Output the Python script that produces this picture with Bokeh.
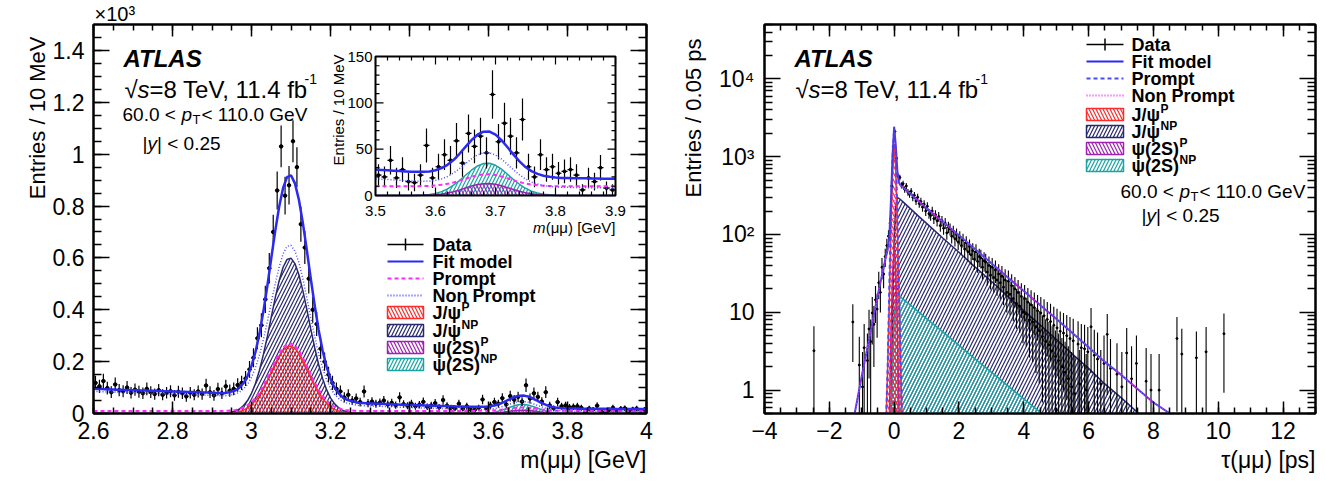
import numpy as np
from bokeh.plotting import figure
from bokeh.layouts import row
from bokeh.models import (LinearAxis, LogAxis, Range1d, Title,
                          CustomJSTickFormatter, SingleIntervalTicker, FixedTicker)
from bokeh.core.properties import value
from bokeh.embed import file_html
from bokeh.resources import INLINE

FONT = "Liberation Sans"
RED = "#ff2a2a"
NAVY = "#28286e"
PURPLE = "#a020b4"
TEAL = "#1aa3a3"
FIT_BLUE = "#2a2af2"
MAGENTA = "#ff2aff"
NP_BLUE = "#4a4aff"
FIT_VIOLET = "#4d3be0"

# ===================== LEFT PANEL : m(mumu) =====================
# data, entries per 10 MeV in units of 10^3, bins 2.60 ... 4.00
mass_data = [
    0.118, 0.105, 0.125, 0.098, 0.082, 0.112, 0.090, 0.086, 0.100, 0.080,
    0.092, 0.084, 0.078, 0.095, 0.082, 0.075, 0.090, 0.072, 0.080, 0.086,
    0.070, 0.084, 0.078, 0.066, 0.080, 0.072, 0.085, 0.075, 0.108, 0.082,
    0.070, 0.094, 0.078, 0.105, 0.088, 0.095, 0.110, 0.118, 0.135, 0.170,
    0.215, 0.290, 0.340, 0.440, 0.560, 0.700, 0.860, 1.030, 0.840, 0.880,
    1.050, 0.950, 0.730, 0.640, 0.520, 0.400, 0.345, 0.250, 0.200, 0.150,
    0.118, 0.095, 0.085, 0.062, 0.072, 0.050, 0.058, 0.044, 0.085, 0.040,
    0.046, 0.038, 0.042, 0.050, 0.035, 0.041, 0.032, 0.062, 0.036, 0.030,
    0.038, 0.028, 0.034, 0.045, 0.026, 0.031, 0.040, 0.024, 0.052, 0.030,
    0.022, 0.020, 0.038, 0.019, 0.028, 0.015, 0.014, 0.022, 0.054, 0.019,
    0.031, 0.044, 0.038, 0.059, 0.035, 0.067, 0.053, 0.064, 0.046, 0.109,
    0.058, 0.078, 0.064, 0.046, 0.082, 0.031, 0.020, 0.044, 0.028, 0.031,
    0.024, 0.026, 0.028, 0.022, 0.006, 0.019, 0.015, 0.030, 0.008, 0.006,
    0.014, 0.022, 0.012, 0.018, 0.020, 0.010, 0.016, 0.019, 0.012, 0.015,
]
mass_bin = 0.01
mass_centers = np.round(2.605 + mass_bin * np.arange(len(mass_data)), 3)
mass_err = 2.5 * np.sqrt(np.array(mass_data) * 1000.0) / 1000.0

# fit components on a 10 MeV grid 2.60 ... 4.00 (units of 10^3)
mass_grid = np.round(2.60 + 0.01 * np.arange(141), 2)
bkg_np_mass = [
    0.0850, 0.0845, 0.0840, 0.0835, 0.0830, 0.0825, 0.0820, 0.0815, 0.0810, 0.0805,
    0.0800, 0.0795, 0.0790, 0.0785, 0.0780, 0.0775, 0.0770, 0.0765, 0.0760, 0.0755,
    0.0750, 0.0745, 0.0740, 0.0735, 0.0730, 0.0725, 0.0720, 0.0715, 0.0710, 0.0705,
    0.0700, 0.0693, 0.0686, 0.0679, 0.0672, 0.0665, 0.0655, 0.0645, 0.0635, 0.0625,
    0.0615, 0.0603, 0.0591, 0.0579, 0.0567, 0.0555, 0.0543, 0.0531, 0.0519, 0.0507,
    0.0495, 0.0483, 0.0471, 0.0459, 0.0447, 0.0435, 0.0423, 0.0411, 0.0399, 0.0387,
    0.0375, 0.0366, 0.0357, 0.0348, 0.0339, 0.0330, 0.0322, 0.0314, 0.0306, 0.0298,
    0.0290, 0.0284, 0.0278, 0.0272, 0.0266, 0.0260, 0.0254, 0.0248, 0.0242, 0.0236,
    0.0230, 0.0225, 0.0220, 0.0215, 0.0210, 0.0205, 0.0200, 0.0195, 0.0190, 0.0185,
    0.0180, 0.0176, 0.0172, 0.0168, 0.0164, 0.0160, 0.0156, 0.0152, 0.0148, 0.0144,
    0.0140, 0.0137, 0.0134, 0.0131, 0.0128, 0.0125, 0.0122, 0.0119, 0.0116, 0.0113,
    0.0110, 0.0108, 0.0106, 0.0104, 0.0102, 0.0100, 0.0098, 0.0096, 0.0094, 0.0092,
    0.0090, 0.0089, 0.0088, 0.0087, 0.0086, 0.0085, 0.0084, 0.0083, 0.0082, 0.0081,
    0.0080, 0.0079, 0.0078, 0.0077, 0.0076, 0.0075, 0.0074, 0.0073, 0.0072, 0.0071, 0.0070,
]
bkg_p_level = 0.010
jpsi_start = 2.94
jpsi_p_peak = [0.001, 0.002, 0.004, 0.008, 0.013, 0.022, 0.034, 0.050, 0.072, 0.098,
               0.128, 0.161, 0.193, 0.222, 0.244, 0.257, 0.260, 0.251, 0.232, 0.205,
               0.174, 0.141, 0.110, 0.082, 0.058, 0.040, 0.026, 0.016, 0.010, 0.006,
               0.003, 0.002, 0.001]
jpsi_np_peak = [0.003, 0.006, 0.010, 0.018, 0.031, 0.050, 0.078, 0.116, 0.166, 0.227,
                0.296, 0.372, 0.446, 0.512, 0.564, 0.594, 0.599, 0.578, 0.535, 0.474,
                0.402, 0.326, 0.254, 0.189, 0.135, 0.092, 0.060, 0.038, 0.023, 0.013,
                0.007, 0.004, 0.002]
psi2s_start = 3.57
psi2s_p_peak = [0.0001, 0.0002, 0.0004, 0.0009, 0.0016, 0.0026, 0.0041, 0.0060, 0.0081, 0.0102,
                0.0118, 0.0128, 0.0129, 0.0121, 0.0105, 0.0085, 0.0064, 0.0045, 0.0029, 0.0018,
                0.0010, 0.0005, 0.0003, 0.0001]
psi2s_np_peak = [0.0003, 0.0006, 0.0012, 0.0023, 0.0042, 0.0071, 0.0111, 0.0162, 0.0218, 0.0273,
                 0.0319, 0.0345, 0.0348, 0.0326, 0.0284, 0.0229, 0.0173, 0.0121, 0.0078, 0.0047,
                 0.0027, 0.0014, 0.0007, 0.0003]


def on_grid(start, vals):
    arr = np.zeros(len(mass_grid))
    i0 = int(round((start - mass_grid[0]) / 0.01))
    arr[i0:i0 + len(vals)] = vals
    return arr


jpsi_p_m = on_grid(jpsi_start, jpsi_p_peak)
jpsi_np_m = on_grid(jpsi_start, jpsi_np_peak)
psi_p_m = on_grid(psi2s_start, psi2s_p_peak)
psi_np_m = on_grid(psi2s_start, psi2s_np_peak)
prompt_m = bkg_p_level + jpsi_p_m + psi_p_m
nonprompt_m = np.array(bkg_np_mass) + jpsi_np_m + psi_np_m
fit_m = prompt_m + nonprompt_m

# ===================== RIGHT PANEL : tau(mumu) =====================
tau_data = [
    0, 0, 2.1, 0, 1.1, 3.5, 0, 2.4, 6.1, 4.2,
    9.8, 7.0, 14.5, 11, 24, 18, 38, 31, 52, 72,
    95, 140, 420, 1350, 2100, 950, 560, 540, 430, 450,
    380, 420, 350, 330, 360, 300, 318, 270, 300, 250,
    265, 225, 245, 200, 230, 185, 175, 200, 160, 180,
    150, 170, 130, 150, 120, 140, 105, 125, 118, 95,
    110, 88, 100, 80, 92, 72, 85, 65, 78, 60,
    70, 55, 62, 48, 60, 45, 52, 50, 38, 46,
    44, 33, 40, 30, 38, 28, 35, 26, 31, 24,
    29, 21, 26, 18, 25, 17, 22, 15, 20, 13,
    18, 12, 16, 10, 15, 9.5, 13.5, 8, 12.5, 7.5,
    11.5, 6.5, 10.5, 5.8, 9.8, 4.9, 9.0, 4.2, 8.1, 3.8,
    7.6, 3.2, 6.8, 2.7, 6.3, 2.4, 5.7, 2.0, 5.4, 1.7,
    5.0, 1.4, 4.6, 1.1, 4.3, 0.9, 0, 3.9, 1.2, 3.5,
    0, 3.4, 1.0, 3.1, 0, 6.5, 0, 2.8, 0, 2.5,
    0, 1.2, 0, 2.2, 0, 5.2, 0, 1.9, 0, 0,
    0, 1.6, 0, 0, 1.1, 0, 0, 3.0, 0, 0,
    1.4, 0, 0, 2.2, 0, 0, 0, 0, 0, 1.3,
    0, 0, 1.0, 0,
]
tau_bin = 0.05
tau_centers = np.round(-1.175 + tau_bin * np.arange(len(tau_data)), 3)
tau_extra_centers = [-2.475, -1.275, 8.175, 8.725, 8.875, 9.325, 9.625, 10.175]
tau_extra_data = [3.2, 7.5, 1.0, 4.6, 2.9, 2.6, 3.1, 5.3]

tau_grid = [-1.3, -1.25, -1.0, -0.75, -0.5, -0.3, -0.25, -0.2, -0.15, -0.1, -0.05, 0.0,
            0.05, 0.1, 0.15, 0.2, 0.25, 0.3, 0.5, 0.75, 1.0, 1.5, 2.0, 2.5, 3.0, 3.5,
            4.0, 4.5, 5.0, 5.5, 6.0, 6.5, 7.0, 7.5, 8.0, 8.5, 9.0]
E = 0.001  # below the visible range of the log axis
prompt_bkg_t = [E] * 8 + [5, 60, 300, 700, 300, 60, 5, 0.4] + [E] * 21
jpsi_p_t = [E] * 6 + [0.4, 2, 15, 120, 600, 1450, 700, 130, 15, 2, 0.4] + [E] * 20
psi_p_t = [E] * 8 + [0.4, 5, 30, 70, 35, 6, 0.5] + [E] * 22
jpsi_np_t = [E] * 9 + [0.4, 8, 90, 240, 300, 290, 280, 268, 257, 215, 172, 139, 90, 59, 38, 25,
                       16, 10.5, 6.9, 4.5, 2.9, 1.9, 1.2, 0.8, 0.52, 0.34, 0.22, 0.14]
psi_np_t = [E] * 9 + [0.3, 2, 8, 14, 17, 16.3, 15.7, 15.0, 14.4, 12.4, 10.1, 8.3, 5.6, 3.76, 2.5,
                      1.7, 1.14, 0.77, 0.52, 0.35, 0.23, 0.16, 0.1, 0.07, 0.05, 0.03, 0.02, 0.015]
np_bkg_t = [0.3, 0.42, 1.5, 5, 17, 42, 52, 62, 70, 80, 90, 110, 130, 140, 135, 130, 125, 122,
            105, 88, 72, 50, 35, 24, 16, 11, 7.5, 5, 3.4, 2.3, 1.5, 1.0, 0.7, 0.47, 0.32,
            0.26, 0.15]
prompt_t = np.array(prompt_bkg_t) + np.array(jpsi_p_t) + np.array(psi_p_t)
nonprompt_t = np.array(np_bkg_t) + np.array(jpsi_np_t) + np.array(psi_np_t)
fit_t = prompt_t + nonprompt_t

# ===================== layout constants =====================
X1 = (2.6, 4.0); Y1 = (0.0, 1.5)
X2 = (-4.0, 13.0); Y2 = (0.5, 5.0e4)
FW1, FW2, FH = 553, 551, 389


def fx1(px): return X1[0] + px * (X1[1] - X1[0]) / FW1
def fy1(py): return Y1[0] + py * (Y1[1] - Y1[0]) / FH
def fx2(px): return X2[0] + px * (X2[1] - X2[0]) / FW2
def fy2(py): return 10 ** (np.log10(Y2[0]) + py * (np.log10(Y2[1]) - np.log10(Y2[0])) / FH)


def add_text(p, x, y, text, size, style="normal", align="left", baseline="alphabetic",
             angle=0.0, color="black"):
    p.text(x=[x], y=[y], text=[text], text_font=value(FONT),
           text_font_size=value(f"{size}px"), text_font_style=value(style),
           text_align=value(align), text_baseline=value(baseline), angle=angle,
           text_color=color)


blank_fmt = CustomJSTickFormatter(code="return '';")


def style_axis(ax, major_len, minor_len, labels=True, standoff=8):
    ax.axis_line_width = 2
    ax.axis_line_color = "black"
    ax.major_tick_in = major_len
    ax.major_tick_out = 0
    ax.minor_tick_in = minor_len
    ax.minor_tick_out = 0
    ax.major_tick_line_width = 1.5
    ax.minor_tick_line_width = 1.5
    ax.major_label_text_font = FONT
    ax.major_label_text_color = "black"
    if labels:
        ax.major_label_text_font_size = "23px"
        ax.major_label_standoff = standoff
    else:
        ax.formatter = blank_fmt
        ax.major_label_text_font_size = "0px"
        ax.major_label_standoff = 0


def base_fig(fw, xr, yr, left, right, ytype="linear"):
    p = figure(frame_width=fw, frame_height=FH, x_range=Range1d(*xr), y_range=Range1d(*yr),
               y_axis_type=ytype, output_backend="svg", toolbar_location=None, title=None,
               min_border_left=left, min_border_right=right, min_border_top=23,
               min_border_bottom=71, background_fill_color="white",
               border_fill_color="white")
    p.xgrid.visible = False
    p.ygrid.visible = False
    p.outline_line_color = "black"
    p.outline_line_width = 2
    return p


def side_title(p, text, place, align, size, standoff, offset=0):
    p.add_layout(Title(text=text, align=align, text_font=FONT, text_font_size=f"{size}px",
                       text_font_style="normal", text_color="black", standoff=standoff,
                       offset=offset), place)


def header(p, fx, fy, pt_px, pt_py, y_px, y_py):
    add_text(p, fx(30), fy(355), "ATLAS", 24, "bold italic")
    add_text(p, fx(31), fy(324), "\u221a", 24)
    add_text(p, fx(44), fy(324), "s", 24, "italic")
    add_text(p, fx(56), fy(324), "=8 TeV, 11.4 fb", 24)
    add_text(p, fx(211), fy(335), "-1", 14)
    add_text(p, fx(pt_px), fy(pt_py), "60.0 < ", 19)
    add_text(p, fx(pt_px + 59), fy(pt_py), "p", 19, "italic")
    add_text(p, fx(pt_px + 70), fy(pt_py - 5), "T", 13)
    add_text(p, fx(pt_px + 79), fy(pt_py), " < 110.0 GeV", 19)
    add_text(p, fx(y_px), fy(y_py), "|", 19)
    add_text(p, fx(y_px + 5), fy(y_py), "y", 19, "italic")
    add_text(p, fx(y_px + 14.5), fy(y_py), "| < 0.25", 19)


def legend(p, fx, fy, gx0, gx1, tx, rows, entries):
    gc = 0.5 * (gx0 + gx1)
    for r, (kind, color, style, main, sup, sdx) in zip(rows, entries):
        if kind == "data":
            p.line([fx(gx0), fx(gx1)], [fy(r), fy(r)], line_color="black", line_width=1.5)
            p.segment([fx(gc)], [fy(r - 6)], [fx(gc)], [fy(r + 6)], line_color="black",
                      line_width=1.5)
        elif kind == "line":
            p.line([fx(gx0), fx(gx1)], [fy(r), fy(r)], line_color=color, line_width=2,
                   line_dash=style)
        else:
            p.rect(x=[fx(gc)], y=[fy(r)], width=gx1 - gx0, height=12, width_units="screen",
                   height_units="screen", fill_color=None, line_color=color, line_width=1.5,
                   hatch_pattern=value(style), hatch_color=color, hatch_scale=7,
                   hatch_weight=1.2)
        add_text(p, fx(tx), fy(r), main, 18, "bold", baseline="middle")
        if sup:
            add_text(p, fx(tx + sdx), fy(r + 6), sup, 12, "bold", baseline="middle")


def hatched(p, x, y1, y2, color, pattern):
    p.varea(x=x, y1=y1, y2=y2, fill_color=None, hatch_pattern=value(pattern),
            hatch_color=color, hatch_scale=7, hatch_weight=1.2)
    p.line(x, y2, line_color=color, line_width=1.5)


num_fmt = CustomJSTickFormatter(code="""
var s = tick.toFixed(1); if (s.endsWith('.0')) { s = s.slice(0, -2); } return s;""")

# ===================== figure 1 =====================
p1 = base_fig(FW1, X1, Y1, 93, 22)
tx1 = SingleIntervalTicker(interval=0.2, num_minor_ticks=4)
ty1 = SingleIntervalTicker(interval=0.2, num_minor_ticks=4)
p1.xaxis[0].ticker = tx1
p1.yaxis[0].ticker = ty1
p1.xaxis[0].formatter = num_fmt
p1.yaxis[0].formatter = num_fmt
style_axis(p1.xaxis[0], 12, 6, True, 8)
style_axis(p1.yaxis[0], 16, 8, True, 9)
top1 = LinearAxis(ticker=tx1)
style_axis(top1, 12, 6, False)
p1.add_layout(top1, "above")
right1 = LinearAxis(ticker=ty1)
style_axis(right1, 16, 8, False)
p1.add_layout(right1, "right")
side_title(p1, "\u00d710\u00b3", "above", "left", 20, 0, 1)
side_title(p1, "Entries / 10 MeV", "left", "right", 22, 0, 12)
side_title(p1, "m(\u03bc\u03bc) [GeV]", "below", "right", 23, 7)

hatched(p1, mass_grid, 0, jpsi_np_m, NAVY, "/")
hatched(p1, mass_grid, 0, jpsi_p_m, RED, "\\")
hatched(p1, mass_grid, 0, psi_np_m, TEAL, "/")
hatched(p1, mass_grid, 0, psi_p_m, PURPLE, "\\")

p1.segment(mass_centers, np.array(mass_data) - mass_err, mass_centers,
           np.array(mass_data) + mass_err, line_color="black", line_width=1.2)
p1.segment(mass_centers - mass_bin / 2, mass_data, mass_centers + mass_bin / 2, mass_data,
           line_color="black", line_width=1.2)
p1.scatter(mass_centers, mass_data, size=3.5, color="black")

p1.line(mass_grid, prompt_m, line_color=MAGENTA, line_width=2, line_dash="4 3")
p1.line(mass_grid, nonprompt_m, line_color=NP_BLUE, line_width=1.5, line_dash="1 2")
p1.line(mass_grid, fit_m, line_color=FIT_BLUE, line_width=2.5)

# ---- inset ----
INSET = (282, 522, 218, 357)  # frame px: left, right, bottom, top
IX = (3.5, 3.9); IY = (0.0, 150.0)
sub = p1.subplot(x_source=Range1d(*IX), y_source=Range1d(*IY),
                 x_target=Range1d(fx1(INSET[0]), fx1(INSET[1])),
                 y_target=Range1d(fy1(INSET[2]), fy1(INSET[3])))
sub.quad(left=[IX[0]], right=[IX[1]], bottom=[IY[0]], top=[IY[1]], fill_color="white",
         line_color=None)
sel = (mass_grid >= IX[0] - 1e-9) & (mass_grid <= IX[1] + 1e-9)
gi = mass_grid[sel]
sub.varea(x=gi, y1=0, y2=psi_np_m[sel] * 1000, fill_color=None, hatch_pattern=value("/"),
          hatch_color=TEAL, hatch_scale=7, hatch_weight=1.2)
sub.line(gi, psi_np_m[sel] * 1000, line_color=TEAL, line_width=1.5)
sub.varea(x=gi, y1=0, y2=psi_p_m[sel] * 1000, fill_color=None, hatch_pattern=value("\\"),
          hatch_color=PURPLE, hatch_scale=7, hatch_weight=1.2)
sub.line(gi, psi_p_m[sel] * 1000, line_color=PURPLE, line_width=1.5)
dsel = (mass_centers > IX[0]) & (mass_centers < IX[1])
dc = mass_centers[dsel]
dv = np.array(mass_data)[dsel] * 1000
de = mass_err[dsel] * 1000
sub.segment(dc, dv - de, dc, dv + de, line_color="black", line_width=1.2)
sub.segment(dc - mass_bin / 2, dv, dc + mass_bin / 2, dv, line_color="black", line_width=1.2)
sub.scatter(dc, dv, size=3, color="black")
sub.line(gi, prompt_m[sel] * 1000, line_color=MAGENTA, line_width=2, line_dash="4 3")
sub.line(gi, nonprompt_m[sel] * 1000, line_color=NP_BLUE, line_width=1.5, line_dash="1 2")
sub.line(gi, fit_m[sel] * 1000, line_color=FIT_BLUE, line_width=2.5)

inset_xticks = [3.5, 3.6, 3.7, 3.8, 3.9]
inset_xminor = [round(3.5 + 0.02 * i, 2) for i in range(21) if i % 5]
inset_yticks = [0, 50, 100, 150]
inset_yminor = [10 * i for i in range(16) if i % 5]
dxpx = (IX[1] - IX[0]) / (INSET[1] - INSET[0])
dypx = (IY[1] - IY[0]) / (INSET[3] - INSET[2])
for ticks, L in ((inset_xticks, 8), (inset_xminor, 4)):
    t = np.array(ticks, dtype=float)
    sub.segment(t, IY[0], t, IY[0] + L * dypx, line_color="black", line_width=1.2)
    sub.segment(t, IY[1], t, IY[1] - L * dypx, line_color="black", line_width=1.2)
for ticks, L in ((inset_yticks, 8), (inset_yminor, 4)):
    t = np.array(ticks, dtype=float)
    sub.segment(IX[0], t, IX[0] + L * dxpx, t, line_color="black", line_width=1.2)
    sub.segment(IX[1], t, IX[1] - L * dxpx, t, line_color="black", line_width=1.2)
sub.quad(left=[IX[0]], right=[IX[1]], bottom=[IY[0]], top=[IY[1]], fill_color=None,
         line_color="black", line_width=2)
for t in inset_xticks:
    add_text(p1, fx1(INSET[0] + (t - IX[0]) / dxpx), fy1(INSET[2] - 15), f"{t:.1f}", 15,
             align="center", baseline="middle")
for t in inset_yticks:
    add_text(p1, fx1(INSET[0] - 3), fy1(INSET[2] + (t - IY[0]) / dypx), f"{t}", 15,
             align="right", baseline="middle")
add_text(p1, fx1(INSET[1]), fy1(INSET[2] - 32), "(\u03bc\u03bc) [GeV]", 15, align="right")
add_text(p1, fx1(INSET[1] - 70), fy1(INSET[2] - 32), "m", 15, "italic", align="right")
add_text(p1, fx1(INSET[0] - 37), fy1(INSET[3] + 2), "Entries / 10 MeV", 15,
         align="right", baseline="middle", angle=np.pi / 2)

# ---- texts of panel 1 ----
header(p1, fx1, fy1, 29, 299, 49, 270)
rows1 = [169, 152, 135, 118, 101, 83, 66, 49]
entries1 = [
    ("data", "black", None, "Data", "", 0),
    ("line", FIT_BLUE, "solid", "Fit model", "", 0),
    ("line", MAGENTA, "4 3", "Prompt", "", 0),
    ("line", NP_BLUE, "1 2", "Non Prompt", "", 0),
    ("hatch", RED, "\\", "J/\u03c8", "P", 29),
    ("hatch", NAVY, "/", "J/\u03c8", "NP", 29),
    ("hatch", PURPLE, "\\", "\u03c8(2S)", "P", 48),
    ("hatch", TEAL, "/", "\u03c8(2S)", "NP", 48),
]
legend(p1, fx1, fy1, 294, 330, 339, rows1, entries1)

# ===================== figure 2 =====================
p2 = base_fig(FW2, X2, Y2, 94, 12, "log")
tx2 = SingleIntervalTicker(interval=2, num_minor_ticks=4)
ty2 = FixedTicker(ticks=[1, 10, 100, 1000, 10000],
                  minor_ticks=[m * 10.0 ** e for e in range(-1, 5) for m in range(2, 10)])
p2.xaxis[0].ticker = tx2
p2.yaxis[0].ticker = ty2
p2.xaxis[0].formatter = CustomJSTickFormatter(code="""
var v = Math.round(tick); return v < 0 ? '\\u2212' + (-v) : '' + v;""")
p2.yaxis[0].formatter = CustomJSTickFormatter(code="""
var m = {1: '1', 10: '10', 100: '10\\u00b2', 1000: '10\\u00b3', 10000: '10\\u2074'};
var k = Math.round(tick); return (k in m) ? m[k] : '';""")
style_axis(p2.xaxis[0], 12, 6, True, 8)
style_axis(p2.yaxis[0], 16, 8, True, 10)
top2 = LinearAxis(ticker=tx2)
style_axis(top2, 12, 6, False)
p2.add_layout(top2, "above")
right2 = LogAxis(ticker=ty2)
style_axis(right2, 16, 8, False)
p2.add_layout(right2, "right")
side_title(p2, "Entries / 0.05 ps", "left", "right", 22, 21, 14)
side_title(p2, "\u03c4(\u03bc\u03bc) [ps]", "below", "right", 23, 7)

FLOOR = 1e-3
hatched(p2, tau_grid, FLOOR, jpsi_np_t, NAVY, "/")
hatched(p2, tau_grid, FLOOR, psi_np_t, TEAL, "/")
hatched(p2, tau_grid, FLOOR, psi_p_t, PURPLE, "\\")
hatched(p2, tau_grid, FLOOR, jpsi_p_t, RED, "\\")

tc = np.concatenate([tau_centers, tau_extra_centers])
tv = np.concatenate([np.array(tau_data, dtype=float), tau_extra_data])
keep = tv > 0
tc, tv = tc[keep], tv[keep]
te = 1.9 * np.sqrt(tv)
p2.segment(tc, np.maximum(tv - te, FLOOR), tc, tv + te, line_color="black", line_width=1.1)
p2.segment(tc - tau_bin / 2, tv, tc + tau_bin / 2, tv, line_color="black", line_width=1.1)
p2.scatter(tc, tv, size=2, color="black")

p2.line(tau_grid, prompt_t, line_color=NP_BLUE, line_width=2, line_dash="4 3")
p2.line(tau_grid, fit_t, line_color=FIT_VIOLET, line_width=2)
p2.line(tau_grid, nonprompt_t, line_color=MAGENTA, line_width=1.2, line_dash="1 2")

header(p2, fx2, fy2, 356, 222, 377, 198)
rows2 = [369, 352, 335, 318, 299, 282, 265, 248]
entries2 = [
    ("data", "black", None, "Data", "", 0),
    ("line", FIT_BLUE, "solid", "Fit model", "", 0),
    ("line", NP_BLUE, "4 3", "Prompt", "", 0),
    ("line", MAGENTA, "1 2", "Non Prompt", "", 0),
    ("hatch", RED, "\\", "J/\u03c8", "P", 29),
    ("hatch", NAVY, "/", "J/\u03c8", "NP", 29),
    ("hatch", PURPLE, "\\", "\u03c8(2S)", "P", 48),
    ("hatch", TEAL, "/", "\u03c8(2S)", "NP", 48),
]
legend(p2, fx2, fy2, 322, 359, 367, rows2, entries2)

layout = row(p1, p2)
open("out.html", "w").write(file_html(layout, INLINE, "ATLAS charmonium fit"))
